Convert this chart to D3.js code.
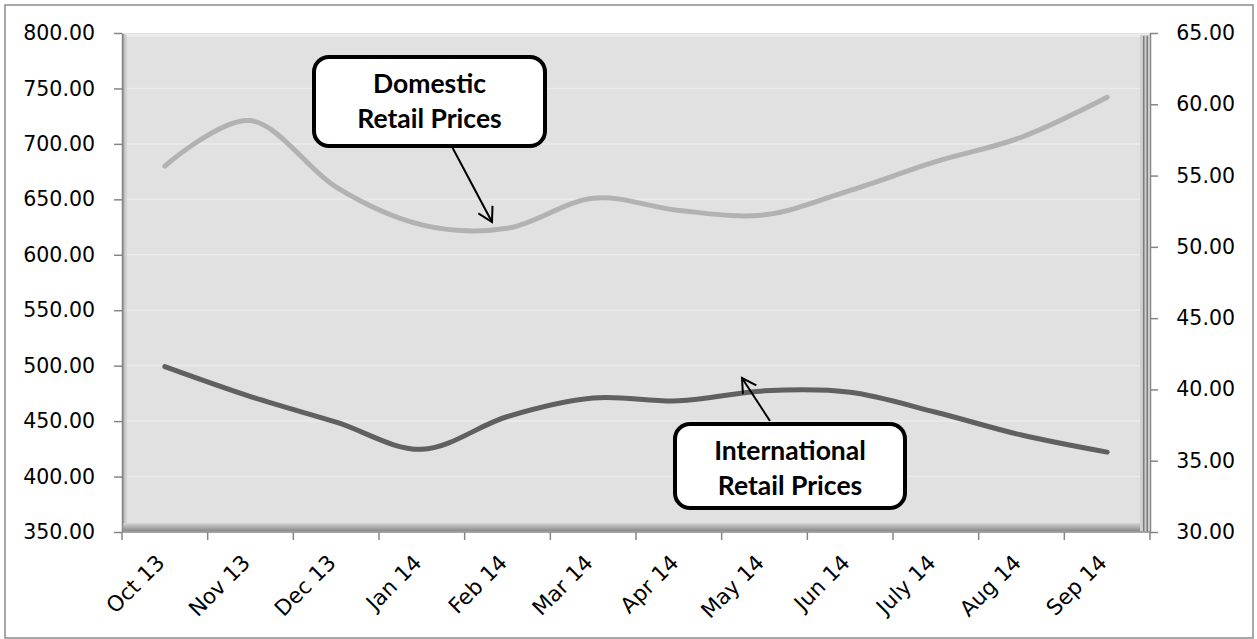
<!DOCTYPE html>
<html>
<head>
<meta charset="utf-8">
<script src="https://cdn.jsdelivr.net/npm/d3@7"></script>
<style>
  html, body { margin: 0; padding: 0; background: #fff; }
  svg { display: block; }
</style>
</head>
<body>
<svg id="chart" width="1257" height="639"></svg>
<script>
const categories = ["Oct 13","Nov 13","Dec 13","Jan 14","Feb 14","Mar 14","Apr 14","May 14","Jun 14","July 14","Aug 14","Sep 14"];
const domesticPrices = [680, 721, 661, 627, 624, 651, 640, 636, 658, 684, 706, 742];
const internationalPrices = [41.6, 39.5, 37.7, 35.8, 38.1, 39.4, 39.2, 39.9, 39.8, 38.4, 36.8, 35.6];
const leftTicks = [350, 400, 450, 500, 550, 600, 650, 700, 750, 800];
const rightTicks = [30, 35, 40, 45, 50, 55, 60, 65];

const svg = d3.select("#chart");
const L = 122, R = 1150, T = 33, B = 532;

const x = d3.scaleBand().domain(categories).range([L, R]).padding(0);
const cx = c => x(c) + x.bandwidth() / 2;
const yL = d3.scaleLinear().domain([350, 800]).range([B, T]);
const yR = d3.scaleLinear().domain([30, 65]).range([B, T]);

// outer border
svg.append("rect").attr("x", 5).attr("y", 5).attr("width", 1248).attr("height", 633)
  .attr("fill", "#fff").attr("stroke", "#8c8c8c").attr("stroke-width", 1.5);

const defs = svg.append("defs");
const gB = defs.append("linearGradient").attr("id", "bevB").attr("x1", 0).attr("y1", 0).attr("x2", 0).attr("y2", 1);
gB.append("stop").attr("offset", "0%").attr("stop-color", "#d4d4d4");
gB.append("stop").attr("offset", "60%").attr("stop-color", "#a8a8a8");
gB.append("stop").attr("offset", "100%").attr("stop-color", "#8a8a8a");

// plot background
svg.append("rect").attr("x", L).attr("y", T).attr("width", R - L).attr("height", B - T).attr("fill", "#e1e1e1");

// gridlines
svg.append("g").selectAll("line").data(leftTicks.slice(1, -1)).join("line")
  .attr("x1", L).attr("x2", R).attr("y1", d => yL(d)).attr("y2", d => yL(d))
  .attr("stroke", "#ebebeb").attr("stroke-width", 1.5);

// bevel frame
svg.append("rect").attr("x", L + 1).attr("y", T + 1).attr("width", R - L - 2).attr("height", 3).attr("fill", "#ececec");
svg.append("rect").attr("x", L + 1).attr("y", T + 1).attr("width", 1.5).attr("height", B - T - 2).attr("fill", "#a3a3a3");
svg.append("rect").attr("x", L + 3).attr("y", T + 2).attr("width", 2).attr("height", B - T - 4).attr("fill", "#cfcfcf");
svg.append("rect").attr("x", L + 1).attr("y", B - 9).attr("width", R - L - 2).attr("height", 8).attr("fill", "url(#bevB)");
svg.append("rect").attr("x", R - 10).attr("y", T + 2).attr("width", 9).attr("height", B - T - 3).attr("fill", "#cfcfcf");
svg.append("rect").attr("x", R - 7).attr("y", T + 3).attr("width", 1.5).attr("height", B - T - 4).attr("fill", "#7a7a7a");
svg.append("rect").attr("x", R - 3.5).attr("y", T + 3).attr("width", 1.5).attr("height", B - T - 4).attr("fill", "#7a7a7a");

// axes
const axisColor = "#868686";
const fmt = d3.format(".2f");
const axL = svg.append("g").attr("transform", `translate(${L},0)`)
  .call(d3.axisLeft(yL).tickValues(leftTicks).tickFormat(fmt).tickSize(8).tickSizeOuter(0).tickPadding(19));
const axR = svg.append("g").attr("transform", `translate(${R},0)`)
  .call(d3.axisRight(yR).tickValues(rightTicks).tickFormat(fmt).tickSize(8).tickSizeOuter(0).tickPadding(18));
[axL, axR].forEach(a => {
  a.select(".domain").attr("stroke", axisColor).attr("stroke-width", 1.5);
  a.selectAll(".tick line").attr("stroke", axisColor).attr("stroke-width", 1.5);
  a.selectAll(".tick text").attr("fill", "#000").style("font-family", "DejaVu Sans").style("font-size", "20.5px");
});
axR.selectAll(".tick text").attr("text-anchor", "end").attr("x", 85);

// x axis
const axB = svg.append("g");
axB.append("line").attr("x1", L).attr("x2", R).attr("y1", B).attr("y2", B).attr("stroke", axisColor).attr("stroke-width", 1.5);
const boundaries = categories.map(c => x(c)).concat([x.range()[1]]);
axB.selectAll("line.tk").data(boundaries).join("line").attr("class", "tk")
  .attr("x1", d => d).attr("x2", d => d).attr("y1", B).attr("y2", B + 8)
  .attr("stroke", axisColor).attr("stroke-width", 1.5);
axB.selectAll("text").data(categories).join("text")
  .attr("transform", d => `translate(${cx(d) + 1},${B + 32}) rotate(-45)`)
  .attr("text-anchor", "end")
  .style("font-family", "DejaVu Sans").style("font-size", "21.5px").attr("fill", "#000")
  .text(d => d);

// lines
const curve = d3.curveCardinal.tension(0);
const lineL = d3.line().x((d, i) => cx(categories[i])).y(d => yL(d)).curve(curve);
const lineR = d3.line().x((d, i) => cx(categories[i])).y(d => yR(d)).curve(curve);
svg.append("path").datum(domesticPrices).attr("d", lineL)
  .attr("fill", "none").attr("stroke", "#b2b2b2").attr("stroke-width", 5).attr("stroke-linecap", "round");
svg.append("path").datum(internationalPrices).attr("d", lineR)
  .attr("fill", "none").attr("stroke", "#606060").attr("stroke-width", 5).attr("stroke-linecap", "round");

// arrow marker
defs.append("marker").attr("id", "arr").attr("viewBox", "-16 -10 20 20")
  .attr("refX", 0).attr("refY", 0).attr("markerWidth", 20).attr("markerHeight", 20)
  .attr("markerUnits", "userSpaceOnUse").attr("orient", "auto")
  .append("path").attr("d", "M-14,-8 L0,0 L-14,8").attr("fill", "none").attr("stroke", "#000").attr("stroke-width", 2);

function callout(bx, by, bw, bh, lines, tail, tip) {
  svg.append("line").attr("x1", tail[0]).attr("y1", tail[1]).attr("x2", tip[0]).attr("y2", tip[1])
    .attr("stroke", "#000").attr("stroke-width", 2).attr("marker-end", "url(#arr)");
  svg.append("rect").attr("x", bx).attr("y", by).attr("width", bw).attr("height", bh)
    .attr("rx", 15).attr("ry", 15).attr("fill", "#fff").attr("stroke", "#000").attr("stroke-width", 4);
  lines.forEach((t, i) => {
    svg.append("text").attr("x", bx + bw / 2).attr("y", by - 2 + 38 + i * 35)
      .attr("text-anchor", "middle").style("font-family", "Lato").style("font-weight", "bold")
      .style("font-size", "26.5px").attr("fill", "#000").text(t);
  });
}
callout(314, 57, 231, 89, ["Domestic", "Retail Prices"], [450, 143], [492, 222]);
callout(675, 424, 230, 84, ["International", "Retail Prices"], [770, 421], [742, 378]);
</script>
</body>
</html>
